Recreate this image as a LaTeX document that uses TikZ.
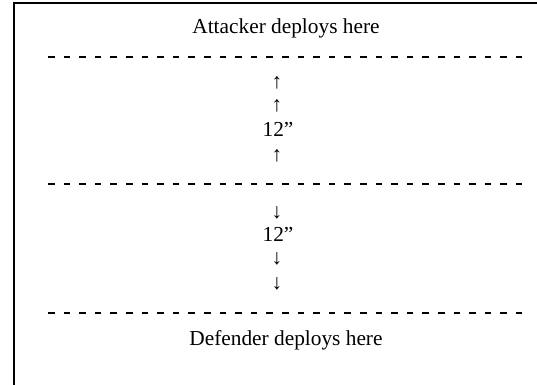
\documentclass[tikz,border=0pt]{standalone}
\usepackage{fontspec}
\setmainfont{Liberation Serif}
\usetikzlibrary{positioning}

\begin{document}
\begin{tikzpicture}[x=0.75pt,y=-0.75pt,
    zonetext/.style={font=\fontsize{16}{19}\selectfont, inner sep=0pt},
    zoneline/.style={line width=1.6pt, dash pattern=on 5pt off 6.7pt}]
    \useasboundingbox (0,0) rectangle (537,385);
    % Frame
    \draw[line width=1.5pt] (14,385) -- (14,3) -- (537,3);

    % Zone lines
    \coordinate (top west) at (48,57);  \coordinate (top east) at (522,57);
    \coordinate (mid west) at (48,184); \coordinate (mid east) at (522,184);
    \coordinate (bot west) at (48,313); \coordinate (bot east) at (522,313);
    \draw[zoneline] (top west) -- (top east);
    \draw[zoneline] (mid west) -- (mid east);
    \draw[zoneline] (bot west) -- (bot east);

    % Deployment zones
    \node[zonetext, anchor=base] (attacker) at (286,34) {Attacker deploys here};
    \node[zonetext, anchor=base] (defender) at (286,346) {Defender deploys here};

    % Distances
    \node[zonetext] (up1) at (277,82.5) {↑};
    \node[zonetext] (up2) at (277,105.8) {↑};
    \node[zonetext, anchor=base] (dist1) at (278,137) {12”};
    \node[zonetext] (up3) at (277,155.8) {↑};
    \node[zonetext] (down1) at (277,213.3) {↓};
    \node[zonetext, anchor=base] (dist2) at (278,241.7) {12”};
    \node[zonetext] (down2) at (277,259) {↓};
    \node[zonetext] (down3) at (277,284) {↓};
\end{tikzpicture}
\end{document}
